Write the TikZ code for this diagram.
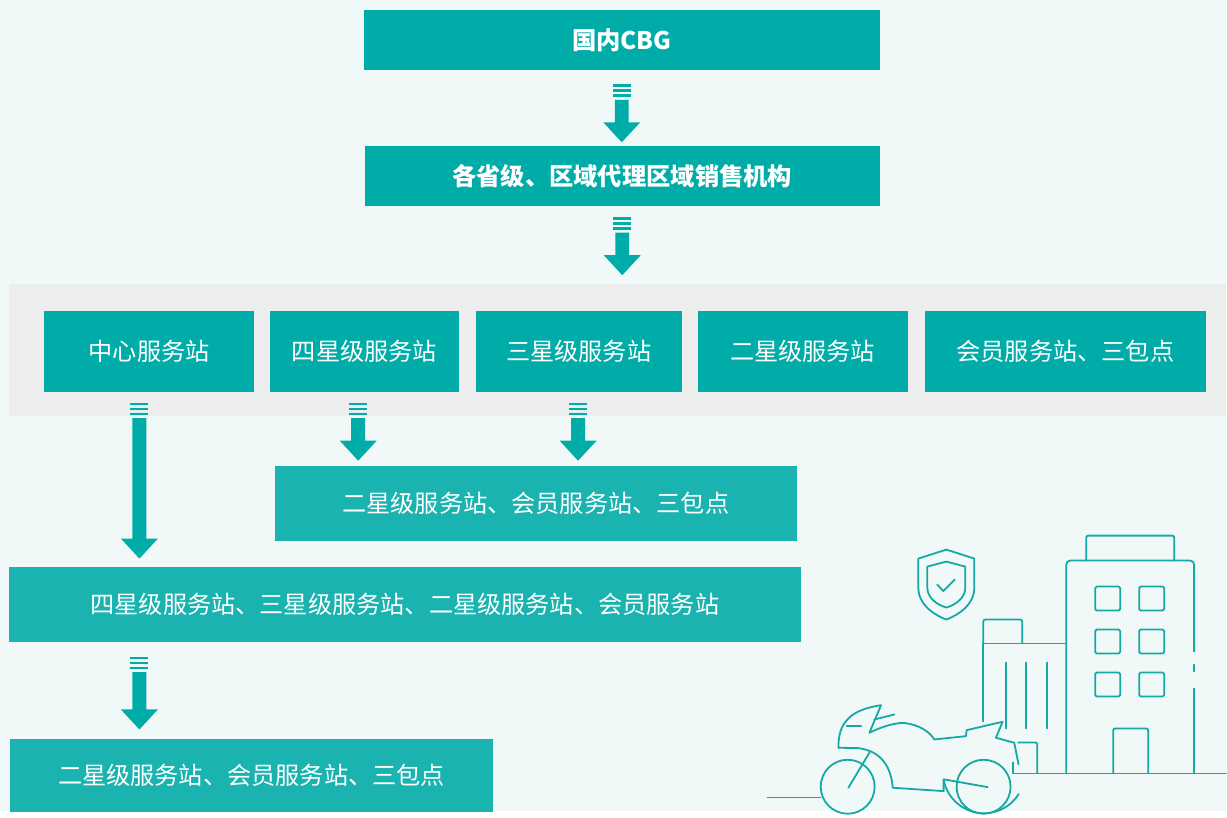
\documentclass[tikz,border=0pt]{standalone}
\usepackage{fontspec}
\setmainfont{Noto Sans CJK SC}
\usetikzlibrary{positioning}
\definecolor{bgmint}{HTML}{F1F8F8}
\definecolor{bandgray}{HTML}{ECEDED}
\definecolor{tealdark}{HTML}{00ACA8}
\definecolor{teallight}{HTML}{1BB3AF}
\definecolor{lineteal}{HTML}{16A9A4}
\tikzset{
  box/.style={fill=tealdark, text=white, inner sep=0pt, font=\fontsize{24.2}{27}\selectfont},
  boxbold/.style={box, font=\fontsize{24.3}{27}\selectfont\bfseries},
  boxlight/.style={box, fill=teallight},
  icon/.style={draw=lineteal, line width=1.8pt, line cap=round, line join=round},
  % striped block arrow; #1 = distance from first stripe to the tip
  sarrow/.pic={
    \fill[tealdark] (-9,0) rectangle (9,2.6);
    \fill[tealdark] (-9,5) rectangle (9,7.6);
    \fill[tealdark] (-9,10) rectangle (9,12.6);
    \fill[tealdark] (-7,15.5) -- (7,15.5) -- (7,#1-20) -- (18.5,#1-20)
      -- (0,#1) -- (-18.5,#1-20) -- (-7,#1-20) -- cycle;
  }
}
\begin{document}
\begin{tikzpicture}[x=1pt, y=-1pt]
  % canvas and grey band behind the station row
  \fill[bgmint] (0,0) rectangle (1227,812);
  \fill[bandgray] (9,284) rectangle (1227,416);

  % top of the hierarchy
  \node[boxbold, minimum width=516, minimum height=60, anchor=north west] (cbg) at (364,10) {国内CBG};
  \node[boxbold, minimum width=515, minimum height=60, anchor=north west] (prov) at (365,146) {各省级、区域代理区域销售机构};

  % station row
  \node[box, minimum width=210, minimum height=81, anchor=north west] (center) at (44,311) {中心服务站};
  \node[box, minimum width=189, minimum height=81, anchor=north west] (four) at (270,311) {四星级服务站};
  \node[box, minimum width=206, minimum height=81, anchor=north west] (three) at (476,311) {三星级服务站};
  \node[box, minimum width=210, minimum height=81, anchor=north west] (two) at (698,311) {二星级服务站};
  \node[box, minimum width=282, minimum height=81, anchor=north west] (member) at (925,311) {会员服务站、三包点};

  % lower levels
  \node[boxlight, minimum width=522, minimum height=75, anchor=north west] (sub1) at (275,466) {二星级服务站、会员服务站、三包点};
  \node[boxlight, minimum width=792, minimum height=75, anchor=north west] (sub2) at (9,567) {四星级服务站、三星级服务站、二星级服务站、会员服务站};
  \node[boxlight, minimum width=483, minimum height=73, anchor=north west] (sub3) at (10,739) {二星级服务站、会员服务站、三包点};

  % flow arrows
  \pic at ([yshift=-14]cbg.south) {sarrow=58};
  \pic at ([yshift=-11]prov.south) {sarrow=58};
  \pic at (139.5,403) {sarrow=156};
  \pic at (358.5,403) {sarrow=58};
  \pic at (578.5,403) {sarrow=58};
  \pic at (139.5,657) {sarrow=73};

  % shield with tick
  \draw[icon] (947,550) -- (975,559) -- (975,588) .. controls (975,605) and (960,615) .. (947,620)
    .. controls (934,615) and (919,605) .. (919,588) -- (919,559) -- cycle;
  \draw[icon] (947,562) -- (966,567) -- (966,588) .. controls (966,598) and (957,605) .. (947,608)
    .. controls (937,605) and (928,598) .. (928,588) -- (928,567) -- cycle;
  \draw[icon] (938,585) -- (944,591.5) -- (955.5,580);

  % tall building
  \draw[icon] (1087,561) -- (1087,539) [rounded corners=2] -- (1087,536) -- (1175,536) -- (1175,561);
  \draw[icon, rounded corners=4] (1067,774) -- (1067,561) -- (1195,561) -- (1195,652);
  \draw[icon] (1195,665) -- (1195,672);
  \draw[icon] (1195,689) -- (1195,774);
  \foreach \wx in {1096,1140}
    \foreach \wy in {587,630,673}
      \draw[icon, rounded corners=1.5] (\wx,\wy) rectangle ++(25,24);
  \draw[icon, rounded corners=2] (1114,774) -- (1114,729) -- (1149,729) -- (1149,774);

  % low building
  \draw[icon, rounded corners=2] (984,644) -- (984,620) -- (1023,620) -- (1023,644);
  \draw[icon] (984,722) -- (984,644) -- (1067,644);
  \foreach \lx in {1007,1027,1048}
    \draw[icon] (\lx,663) -- (\lx,729);
  \draw[icon, rounded corners=2] (1019,743) -- (1038,743) -- (1038,774);

  % ground lines
  \draw[icon] (1014,763) -- (1014,774) -- (1227,774);
  \draw[icon] (768,798) -- (821,798);

  % motorcycle
  \draw[icon] (848.3,787.3) circle (27);
  \draw[icon] (984.3,787.3) circle (27);
  \draw[icon] (839,748.3) .. controls (839,735) and (842,727) .. (846.7,721.7)
    .. controls (853,713) and (866,708) .. (881.7,705.7) -- (870,733.3)
    .. controls (885,726) and (900,722) .. (908,724) .. controls (920,726) and (930,732) .. (935,740)
    -- (966.7,736.7) -- (967.3,730.7) -- (1003.3,722.3) -- (996.7,738.3) -- (1015,743.3) -- (1019.3,765);
  \draw[icon] (875,720) -- (895,715);
  \draw[icon] (847.3,726.7) -- (861.7,726.7);
  \draw[icon] (839,748.3) -- (858,748.6) .. controls (882,751) and (892,768) .. (893.3,788.3)
    -- (944.3,791.7) -- (944.3,780);
  \draw[icon] (944.3,780) arc[start angle=170, end angle=32, radius=41];
  \draw[icon] (870,753.3) -- (849,788.3);
  \draw[icon] (945,780) -- (988.3,787.7);
\end{tikzpicture}
\end{document}
